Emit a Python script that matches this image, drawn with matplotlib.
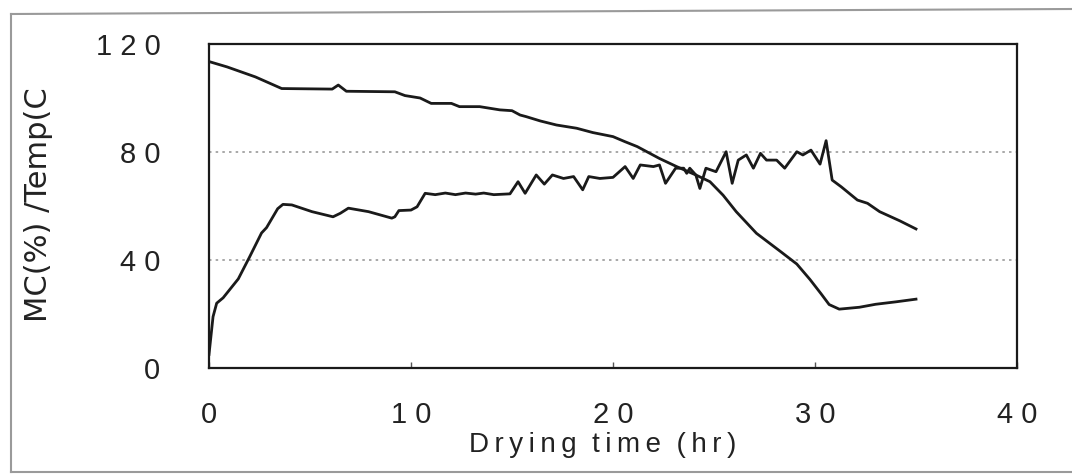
import matplotlib
matplotlib.use("Agg")
import matplotlib.pyplot as plt
from matplotlib.lines import Line2D

plt.rcParams['font.family'] = ['Liberation Sans', 'DejaVu Sans']

# moisture content curve (falling one)
mc_time = [0, 0.9, 2.3, 3.6, 6.1, 6.4, 6.8, 9.2, 9.7, 10.45, 11.0, 12.0, 12.4, 13.4,
           14.4, 15.0, 15.4, 15.7, 16.4, 17.2, 18.2, 19.0, 20.0, 20.6, 21.2, 22.3,
           23.15, 24.1, 24.8, 25.45, 26.1, 27.1, 28.3, 29.1, 29.75, 30.3, 30.7, 31.2,
           32.2, 33.0, 34.0, 35.0]
mc_value = [113.5, 111.5, 107.8, 103.5, 103.3, 104.8, 102.5, 102.3, 100.9, 100.0, 98.0,
            98.0, 96.8, 96.8, 95.6, 95.3, 93.7, 93.1, 91.5, 90.0, 88.8, 87.2, 85.7, 83.8,
            82.0, 77.6, 74.6, 71.5, 69.0, 64.0, 57.9, 49.9, 43.1, 38.5, 32.8, 27.5, 23.5,
            21.8, 22.5, 23.6, 24.5, 25.5]

# temperature curve (noisy one)
temp_time = [0, 0.2, 0.38, 0.7, 1.45, 2.0, 2.6, 2.85, 3.4, 3.66, 4.1, 5.1, 6.14, 6.5, 6.9,
             7.9, 9.05, 9.2, 9.4, 10.0, 10.3, 10.7, 11.2, 11.7, 12.2, 12.7, 13.2, 13.6,
             14.1, 14.9, 15.3, 15.65, 16.2, 16.6, 17.0, 17.55, 18.05, 18.5, 18.8, 19.35,
             20.0, 20.6, 21.0, 21.35, 22.0, 22.3, 22.6, 23.1, 23.5, 23.65, 23.8, 24.1,
             24.3, 24.6, 25.1, 25.6, 25.9, 26.2, 26.6, 26.95, 27.3, 27.6, 28.1, 28.5,
             29.1, 29.4, 29.8, 30.25, 30.55, 30.85, 31.3, 32.1, 32.6, 33.2, 34.2, 35.0]
temp_value = [5.0, 19.0, 24.0, 26.0, 33.0, 41.0, 50.0, 52.0, 59.0, 60.6, 60.4, 57.9, 56.0,
              57.3, 59.2, 57.9, 55.5, 56.0, 58.3, 58.5, 59.7, 64.7, 64.2, 64.8, 64.2, 64.8,
              64.4, 64.8, 64.2, 64.5, 69.0, 64.7, 71.5, 68.1, 71.5, 70.2, 70.9, 66.0, 70.9,
              70.2, 70.6, 74.6, 70.2, 75.2, 74.6, 75.2, 68.4, 74.0, 74.0, 72.1, 74.0, 71.5,
              66.5, 74.0, 72.7, 80.1, 68.4, 77.0, 78.9, 74.0, 79.5, 77.0, 77.0, 74.0, 80.1,
              78.9, 80.7, 75.5, 84.2, 69.6, 67.1, 62.2, 61.0, 57.9, 54.5, 51.5]

x_ticks = [0, 10, 20, 30, 40]
x_tick_labels = ['0', '1 0', '2 0', '3 0', '4 0']
y_ticks = [0, 40, 80, 120]
y_tick_labels = ['0', '4 0', '8 0', '1 2 0']

W, H = 1072, 474
fig = plt.figure(figsize=(W / 100, H / 100), dpi=100)
ax = fig.add_axes([209 / W, 1 - 368 / H, (1017 - 209) / W, (368 - 44) / H])

ink = '#1a1a1a'
ax.plot(mc_time, mc_value, color=ink, lw=2.0)
ax.plot(temp_time, temp_value, color=ink, lw=2.0)

ax.set_xlim(0, 40)
ax.set_ylim(0, 120)
ax.set_xticks(x_ticks)
ax.set_xticklabels(x_tick_labels)
ax.set_yticks(y_ticks)
ax.set_yticklabels(y_tick_labels)
ax.tick_params(axis='x', direction='in', length=4, width=1, color='#555',
               pad=24, labelsize=21, labelcolor='#222')
ax.tick_params(axis='y', length=0, pad=35, labelsize=21, labelcolor='#222')
ax.grid(axis='y', linestyle=(0, (1.5, 2.5)), color='#999999', lw=1.2)
for s in ax.spines.values():
    s.set_linewidth(1.6)
    s.set_color(ink)

thin = '\u2009'
fig.text(603 / W, 1 - 445 / H, thin.join('Drying') + '  ' + thin.join('time') + '  ' + thin.join('(hr)'),
         ha='center', va='center', fontsize=20, color='#222')
fig.text(39 / W, 1 - 205 / H, 'MC(%) /Temp(C', rotation=90, ha='center', va='center',
         fontsize=22, color='#222', family=['DejaVu Sans'])

# outer frame from the scan (left, top, bottom edges only)
frame = '#9a9a9a'
fig.add_artist(Line2D([11 / W, 11 / W], [1 - 472 / H, 1 - 14 / H], color=frame, lw=1.5))
fig.add_artist(Line2D([11 / W, 1.0], [1 - 14 / H, 1 - 9 / H], color=frame, lw=1.5))
fig.add_artist(Line2D([11 / W, 1.0], [1 - 472 / H, 1 - 472 / H], color=frame, lw=1.5))

fig.savefig('out.png', dpi=100)
